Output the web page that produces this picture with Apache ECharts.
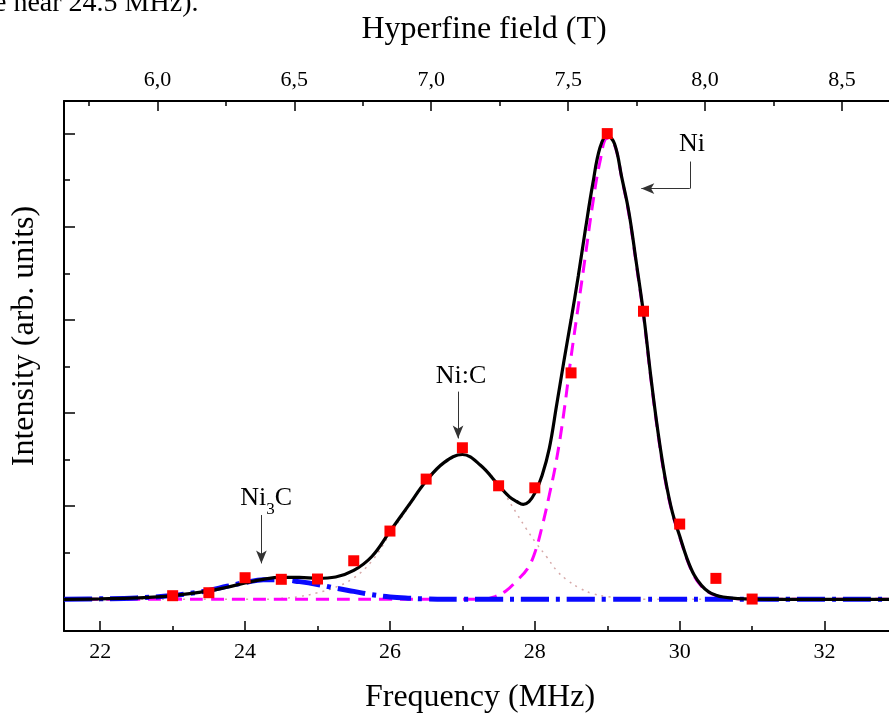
<!DOCTYPE html>
<html>
<head>
<meta charset="utf-8">
<script src="https://cdn.jsdelivr.net/npm/echarts@6/dist/echarts.min.js"></script>
<style>
html,body{margin:0;padding:0;background:#fff;}
#c{width:889px;height:713px;}
</style>
</head>
<body>
<div id="c"></div>
<script>
const FONT = "'Liberation Serif','Times New Roman',serif";

// Tick values
const freqMajorTicks = [22, 24, 26, 28, 30, 32];
const freqMinorTicks = [23, 25, 27, 29, 31];
const fieldMajorTicks = [6.0, 6.5, 7.0, 7.5, 8.0, 8.5];
const fieldMinorTicks = [5.75, 6.25, 6.75, 7.25, 7.75, 8.25];
const intensityMajorTicks = [0, 1, 2, 3, 4, 5];
const intensityMinorTicks = [0.5, 1.5, 2.5, 3.5, 4.5];

// Axis ranges
const freqMin = 21.5, freqMax = 33.0;
const fieldMin = 5.659, fieldMax = 8.701;
const intensityMin = -0.34, intensityMax = 5.35;

// Measured points (red squares)
const measFreq = [23.0, 23.5, 24.0, 24.5, 25.0, 25.5, 26.0, 26.5, 27.0, 27.5, 28.0, 28.5, 29.0, 29.5, 30.0, 30.5, 31.0];
const measIntensity = [0.039, 0.071, 0.232, 0.215, 0.218, 0.414, 0.733, 1.291, 1.627, 1.219, 1.197, 2.431, 5.0, 3.093, 0.808, 0.225, 0.003];

// Total fit (black)
const totalFit = [[21.5,0],[22,0.005],[22.5,0.015],[23,0.04],[23.5,0.09],[23.75,0.13],[24,0.175],[24.25,0.215],[24.5,0.235],[24.75,0.235],[25,0.225],[25.25,0.24],[25.5,0.31],[25.75,0.46],[26,0.73],[26.25,1.0],[26.5,1.27],[26.75,1.47],[27,1.555],[27.25,1.44],[27.5,1.225],[27.65,1.1],[27.75,1.05],[27.84,1.02],[27.92,1.05],[28,1.14],[28.1,1.33],[28.2,1.62],[28.3,2.08],[28.4,2.55],[28.5,3.0],[28.6,3.47],[28.7,3.98],[28.8,4.46],[28.9,4.85],[29,4.98],[29.1,4.89],[29.2,4.53],[29.3,4.15],[29.4,3.62],[29.5,3.07],[29.6,2.4],[29.7,1.8],[29.8,1.3],[29.9,0.93],[30,0.68],[30.1,0.44],[30.2,0.26],[30.3,0.15],[30.4,0.08],[30.5,0.045],[30.6,0.025],[30.8,0.008],[31,0.002],[31.5,0],[32,0],[32.5,0],[33,0]];

// Ni component (magenta dashed)
const niFit = [[21.5,0],[22,0],[22.5,0],[23,0],[23.5,0],[24,0],[24.5,0],[25,0],[25.5,0],[26,0],[26.5,0],[27,0],[27.3,0],[27.45,0.03],[27.6,0.09],[27.75,0.2],[27.9,0.33],[28,0.5],[28.1,0.78],[28.2,1.12],[28.3,1.5],[28.4,2.0],[28.5,2.6],[28.6,3.15],[28.7,3.7],[28.8,4.25],[28.9,4.7],[29,4.95],[29.1,4.88],[29.2,4.52],[29.3,4.13],[29.4,3.6],[29.5,3.05],[29.6,2.38],[29.7,1.78],[29.8,1.28],[29.9,0.92],[30,0.67],[30.1,0.43],[30.2,0.25],[30.3,0.14],[30.4,0.075],[30.5,0.04],[30.6,0.02],[30.8,0.006],[31,0],[31.5,0],[32,0],[32.5,0],[33,0]];

// Ni3C component (blue dash-dot)
const ni3cFit = [[21.5,0],[22,0.005],[22.5,0.015],[23,0.04],[23.25,0.065],[23.5,0.095],[23.75,0.14],[24,0.18],[24.25,0.21],[24.5,0.21],[24.75,0.19],[25,0.16],[25.25,0.12],[25.5,0.085],[25.75,0.05],[26,0.025],[26.25,0.012],[26.5,0.005],[27,0],[27.5,0],[28,0],[28.5,0],[29,0],[29.5,0],[30,0],[30.5,0],[31,0],[31.5,0],[32,0],[32.5,0],[33,0]];

// Ni:C component (light dotted)
const nicFit = [[21.5,0],[22,0],[22.5,0],[23,0],[23.5,0],[24,0],[24.25,0],[24.5,0.01],[24.75,0.03],[25,0.07],[25.25,0.13],[25.5,0.23],[25.75,0.41],[26,0.7],[26.25,0.98],[26.5,1.26],[26.75,1.47],[27,1.55],[27.25,1.44],[27.5,1.24],[27.61,1.1],[27.75,0.92],[27.88,0.76],[28.02,0.6],[28.16,0.46],[28.3,0.31],[28.44,0.21],[28.62,0.12],[28.8,0.06],[29,0.03],[29.2,0.01],[29.5,0],[30,0],[30.5,0],[31,0],[31.5,0],[32,0],[32.5,0],[33,0]];

// Annotation labels: [main, subscript, tail] and anchors (data coordinates, text centre)
const annoParts = [['Ni', '3', 'C'], ['Ni:C', '', ''], ['Ni', '', '']];
const annoAnchor = [[24.29, 1.09], [26.98, 2.40], [30.17, 4.89]];

const chart = echarts.init(document.getElementById('c'), null, {renderer: 'canvas'});

const axisLineStyle = {color: '#000', width: 2};
const tickStyle = {color: '#000', width: 1.5};
const labelStyle = {color: '#000', fontSize: 22, fontFamily: FONT};

function xAx(pos, min, max, opts) {
  return Object.assign({
    type: 'value', position: pos, min: min, max: max, gridIndex: 0,
    splitLine: {show: false},
    axisLine: {show: false, onZero: false},
    axisTick: {show: false},
    axisLabel: {show: false}
  }, opts);
}

const option = {
  animation: false,
  backgroundColor: '#fff',
  grid: {left: 64, top: 101, width: 833, height: 530, containLabel: false, outerBoundsMode: 'none'},
  xAxis: [
    xAx('bottom', freqMin, freqMax, {
      axisLine: {show: true, onZero: false, lineStyle: axisLineStyle},
      axisTick: {show: true, inside: true, length: 10, lineStyle: tickStyle, customValues: freqMajorTicks},
      axisLabel: Object.assign({show: true, margin: 10, customValues: freqMajorTicks}, labelStyle)
    }),
    xAx('top', fieldMin, fieldMax, {
      axisLine: {show: true, onZero: false, lineStyle: axisLineStyle},
      axisTick: {show: true, inside: true, length: 10, lineStyle: tickStyle, customValues: fieldMajorTicks},
      axisLabel: Object.assign({show: true, margin: 10, customValues: fieldMajorTicks,
        formatter: function (v) { return v.toFixed(1).replace('.', ','); }}, labelStyle)
    }),
    xAx('top', fieldMin, fieldMax, {
      axisTick: {show: true, inside: true, length: 5, lineStyle: tickStyle, customValues: fieldMinorTicks}
    }),
    xAx('bottom', freqMin, freqMax, {
      axisTick: {show: true, inside: true, length: 5, lineStyle: tickStyle, customValues: freqMinorTicks}
    })
  ],
  yAxis: [
    {
      type: 'value', position: 'left', min: intensityMin, max: intensityMax, gridIndex: 0,
      splitLine: {show: false},
      axisLine: {show: true, onZero: false, lineStyle: axisLineStyle},
      axisTick: {show: true, inside: true, length: 11, lineStyle: tickStyle, customValues: intensityMajorTicks},
      axisLabel: {show: false}
    },
    {
      type: 'value', position: 'left', min: intensityMin, max: intensityMax, gridIndex: 0,
      splitLine: {show: false},
      axisLine: {show: false, onZero: false},
      axisTick: {show: true, inside: true, length: 6, lineStyle: tickStyle, customValues: intensityMinorTicks},
      axisLabel: {show: false}
    }
  ],
  series: [
    {
      name: 'Ni:C', type: 'line', data: nicFit, showSymbol: false, smooth: 0.4, z: 1,
      lineStyle: {color: '#d6a8a8', width: 1.5, type: [2, 5]}
    },
    {
      name: 'Ni', type: 'line', data: niFit, showSymbol: false, smooth: 0.4, z: 2,
      lineStyle: {color: '#ff00ff', width: 3, type: [13, 8]}
    },
    {
      name: 'Ni3C', type: 'line', data: ni3cFit, showSymbol: false, smooth: 0.4, z: 3,
      lineStyle: {color: '#0a0aff', width: 5, type: [28, 7, 4, 7]}
    },
    {
      name: 'Fit', type: 'line', data: totalFit, showSymbol: false, smooth: 0.4, z: 4,
      lineStyle: {color: '#000', width: 3.2},
      markLine: {
        silent: true, animation: false,
        symbol: ['none', 'arrow'], symbolSize: [8, 13],
        lineStyle: {color: '#333', width: 1, type: 'solid'},
        label: {show: false},
        emphasis: {disabled: true},
        data: [
          [{coord: [24.225, 0.905]}, {coord: [24.225, 0.386]}],
          [{coord: [26.94, 2.23]}, {coord: [26.94, 1.727]}],
          [{coord: [30.14, 4.70], symbol: 'none'}, {coord: [30.14, 4.41], symbol: 'none'}],
          [{coord: [30.14, 4.41]}, {coord: [29.47, 4.41]}]
        ]
      }
    },
    {
      name: 'Data', type: 'scatter', z: 5,
      data: measFreq.map(function (f, i) { return [f, measIntensity[i]]; }),
      symbol: 'rect', symbolSize: 11,
      itemStyle: {color: '#ff0000', opacity: 1}
    }
  ]
};

chart.setOption(option);

function px(p) { return chart.convertToPixel({xAxisIndex: 0, yAxisIndex: 0}, p); }

const mctx = document.createElement('canvas').getContext('2d');
function textWidth(t, size) { mctx.font = size + 'px ' + FONT; return mctx.measureText(t).width; }

const graphics = [
  {type: 'text', x: -6, y: 18, style: {text: 'e near 24.5 MHz).', fontSize: 28, fontFamily: FONT, fill: '#000', align: 'left', verticalAlign: 'bottom'}},
  {type: 'text', x: 484, y: 30, style: {text: 'Hyperfine field (T)', fontSize: 32, fontFamily: FONT, fill: '#000', align: 'center', verticalAlign: 'middle'}},
  {type: 'text', x: 480, y: 698, style: {text: 'Frequency (MHz)', fontSize: 32, fontFamily: FONT, fill: '#000', align: 'center', verticalAlign: 'middle'}},
  {type: 'text', x: 25, y: 336, rotation: Math.PI / 2, style: {text: 'Intensity (arb. units)', fontSize: 32, fontFamily: FONT, fill: '#000', align: 'center', verticalAlign: 'middle'}}
];
const MAIN = 26, SUB = 17;
annoParts.forEach(function (parts, i) {
  const p = px(annoAnchor[i]);
  const w0 = textWidth(parts[0], MAIN), w1 = parts[1] ? textWidth(parts[1], SUB) : 0, w2 = parts[2] ? textWidth(parts[2], MAIN) : 0;
  let x = p[0] - (w0 + w1 + w2) / 2;
  graphics.push({type: 'text', x: x, y: p[1], z: 10, style: {text: parts[0], fontSize: MAIN, fontFamily: FONT, fill: '#000', align: 'left', verticalAlign: 'middle'}});
  x += w0;
  if (parts[1]) {
    graphics.push({type: 'text', x: x, y: p[1] + 12, z: 10, style: {text: parts[1], fontSize: SUB, fontFamily: FONT, fill: '#000', align: 'left', verticalAlign: 'middle'}});
    x += w1;
  }
  if (parts[2]) {
    graphics.push({type: 'text', x: x, y: p[1], z: 10, style: {text: parts[2], fontSize: MAIN, fontFamily: FONT, fill: '#000', align: 'left', verticalAlign: 'middle'}});
  }
});
chart.setOption({graphic: graphics});
</script>
</body>
</html>
